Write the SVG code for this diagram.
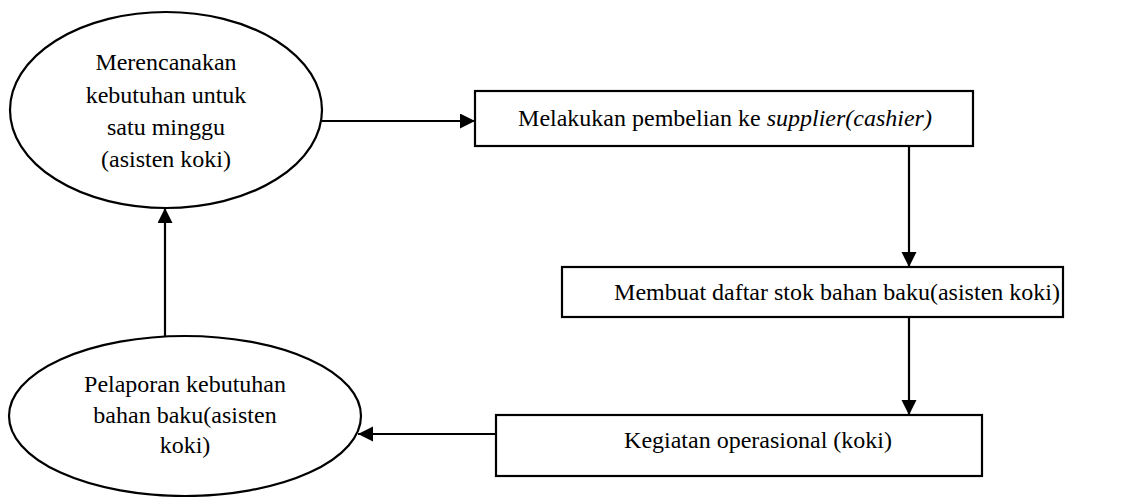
<svg xmlns="http://www.w3.org/2000/svg" width="1121" height="497" viewBox="0 0 1121 497">
<style>
.shape{fill:#fff;stroke:#000;stroke-width:2.2}
.t{font-family:'Liberation Serif','Times New Roman',serif;font-size:24px;fill:#000}
.c{text-anchor:middle}
.line{stroke:#000;stroke-width:2.2;fill:none}
</style>
<defs>
<marker id="ah" markerUnits="userSpaceOnUse" markerWidth="16" markerHeight="16" refX="15" refY="7.5" orient="auto">
<path d="M0,0 L15,7.5 L0,15 Z" fill="#000"/>
</marker>
</defs>
<rect width="1121" height="497" fill="#fff"/>
<g id="connectors">
<line class="line" x1="322" y1="121" x2="475" y2="121" marker-end="url(#ah)"/>
<line class="line" x1="909" y1="146" x2="909" y2="267" marker-end="url(#ah)"/>
<line class="line" x1="909" y1="317" x2="909" y2="415" marker-end="url(#ah)"/>
<line class="line" x1="496" y1="434" x2="358" y2="434" marker-end="url(#ah)"/>
<line class="line" x1="165" y1="337" x2="165" y2="208" marker-end="url(#ah)"/>
</g>
<g id="n1" font-family="Liberation Serif, serif">
<ellipse class="shape" cx="166" cy="110" rx="156" ry="98"/>
<text class="t c" x="166" y="70">Merencanakan</text>
<text class="t c" x="166" y="103">kebutuhan untuk</text>
<text class="t c" x="166" y="135">satu minggu</text>
<text class="t c" x="166" y="167">(asisten koki)</text>
</g>
<g id="n2">
<rect class="shape" x="475" y="91" width="498" height="55"/>
<text class="t c" x="725" y="126">Melakukan pembelian ke <tspan font-style="italic">supplier(cashier)</tspan></text>
</g>
<g id="n3">
<rect class="shape" x="562" y="267" width="501" height="50"/>
<text class="t c" x="837" y="300">Membuat daftar stok bahan baku(asisten koki)</text>
</g>
<g id="n4">
<rect class="shape" x="496" y="415" width="486" height="61"/>
<text class="t c" x="758" y="448">Kegiatan operasional (koki)</text>
</g>
<g id="n5">
<ellipse class="shape" cx="185" cy="416" rx="176" ry="80"/>
<text class="t c" x="185" y="392">Pelaporan kebutuhan</text>
<text class="t c" x="185" y="423">bahan baku(asisten</text>
<text class="t c" x="185" y="453">koki)</text>
</g>
</svg>
